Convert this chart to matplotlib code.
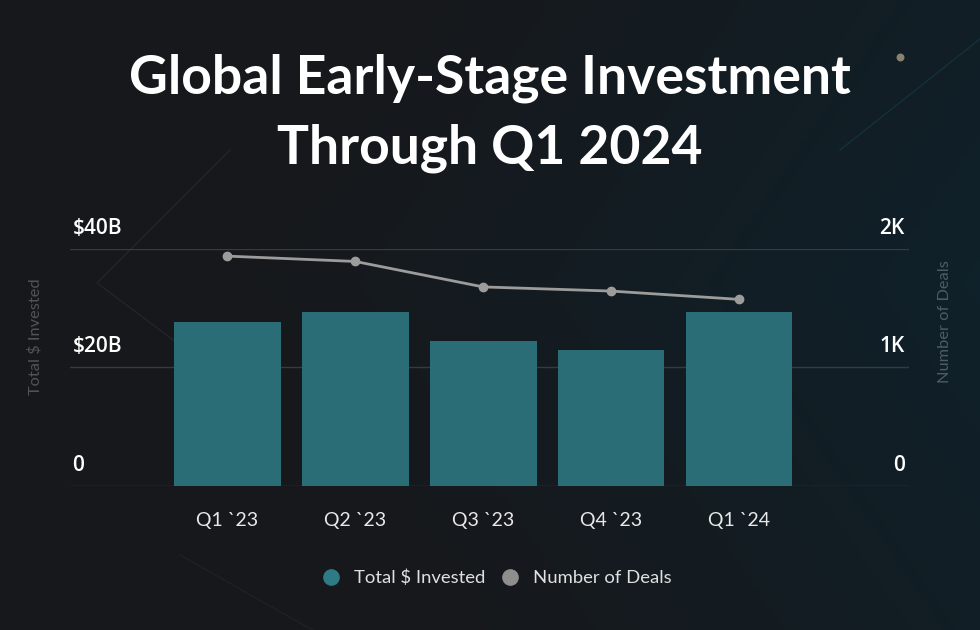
import numpy as np
import matplotlib
matplotlib.use("Agg")
import matplotlib.pyplot as plt
import matplotlib.transforms as mtrans
from matplotlib.lines import Line2D

categories = ["Q1 `23", "Q2 `23", "Q3 `23", "Q4 `23", "Q1 `24"]
invested_b = [27.7, 29.4, 24.5, 23.0, 29.4]
deals = [1940, 1895, 1680, 1645, 1575]
left_ticks = [0, 20, 40]
left_labels = ["0", "$20B", "$40B"]
right_ticks = [0, 1000, 2000]
right_labels = ["0", "1K", "2K"]

W, H = 980, 630
fig = plt.figure(figsize=(W / 100, H / 100), dpi=100)

# background gradient
bg = fig.add_axes([0, 0, 1, 1], zorder=-10)
yy, xx = np.mgrid[0:1:200j, 0:1:300j]
c0 = np.array([23, 24, 27]) / 255.0
c1 = np.array([11, 38, 50]) / 255.0
t = np.clip(0.8 * xx + 0.35 * (0.5 - np.abs(yy - 0.45)) - 0.27, 0, 1) ** 1.2
img = c0[None, None, :] * (1 - t[..., None]) + c1[None, None, :] * t[..., None]
bg.imshow(img, extent=[0, 1, 0, 1], aspect="auto", origin="upper")
# faint decorative lines
bg.plot([230 / W, 97 / W, 180 / W], [1 - 150 / H, 1 - 283 / H, 1 - 345 / H], color="#21252a", lw=1)
bg.plot([180 / W, 330 / W], [1 - 555 / H, 1 - 640 / H], color="#1d2125", lw=1)
bg.plot([840 / W, 985 / W], [1 - 150 / H, 1 - 35 / H], color="#14303b", lw=1)
bg.scatter([900 / W], [1 - 57 / H], s=22, color="#8a8270", zorder=3)
bg.set_xlim(0, 1)
bg.set_ylim(0, 1)
bg.axis("off")

ax_l, ax_r = 70 / W, 909 / W
ax_b, ax_t = 1 - 486 / H, 1 - 249 / H
ax = fig.add_axes([ax_l, ax_b, ax_r - ax_l, ax_t - ax_b])
ax.patch.set_alpha(0)
x = np.arange(len(categories))
ax.bar(x, invested_b, width=0.835, color="#2a6d77", zorder=2)
ax.set_xlim(-1.23, 5.33)
ax.set_ylim(0, 40)
for s in ax.spines.values():
    s.set_visible(False)
ax.set_yticks([])
ax.set_xticks(x)
ax.set_xticklabels(categories, color="#e8e8e8", fontsize=14, family="Lato")
ax.tick_params(axis="x", length=0, pad=19)

off = mtrans.ScaledTranslation(0, 10 / 100, fig.dpi_scale_trans)
for v, lab in zip(left_ticks, left_labels):
    ax.axhline(v, color="#363b40", lw=1, zorder=1)
    ax.text(0.003, v, lab, transform=ax.get_yaxis_transform() + off, ha="left", va="bottom",
            color="white", fontsize=15, fontweight="semibold", family="Open Sans")

ax2 = ax.twinx()
ax2.set_ylim(0, 2000)
ax2.plot(x, deals, color="#9c9c9c", lw=2, marker="o", ms=6, zorder=3)
for s in ax2.spines.values():
    s.set_visible(False)
ax2.set_yticks([])
for v, lab in zip(right_ticks, right_labels):
    ax2.text(0.995, v, lab, transform=ax2.get_yaxis_transform() + off, ha="right", va="bottom",
             color="white", fontsize=15, fontweight="semibold", family="Open Sans")

fig.text(35 / W, 1 - 337 / H, "Total $ Invested", rotation=90, ha="center", va="center",
         color="#4f5458", fontsize=11.8, family="Lato")
fig.text(945 / W, 1 - 322 / H, "Number of Deals", rotation=90, ha="center", va="center",
         color="#4f5c62", fontsize=11.8, family="Lato")

fig.text(490 / W, 1 - 78 / H, "Global Early-Stage Investment", ha="center", va="center",
         color="white", fontsize=38.5, fontweight="bold", family="Lato")
fig.text(490 / W, 1 - 148 / H, "Through Q1 2024", ha="center", va="center",
         color="white", fontsize=38.5, fontweight="bold", family="Lato")

handles = [Line2D([], [], ls="none", marker="o", ms=11, color="#2e7b86"),
           Line2D([], [], ls="none", marker="o", ms=11, color="#8e8e8e")]
fig.legend(handles, ["Total $ Invested", "Number of Deals"], loc="center",
           bbox_to_anchor=(492 / W, 1 - 578 / H), ncol=2, frameon=False,
           labelcolor="#e0e0e0", prop={"family": "Lato", "size": 13.3},
           handletextpad=0.25, columnspacing=0.35)

fig.savefig("out.png", dpi=100)
